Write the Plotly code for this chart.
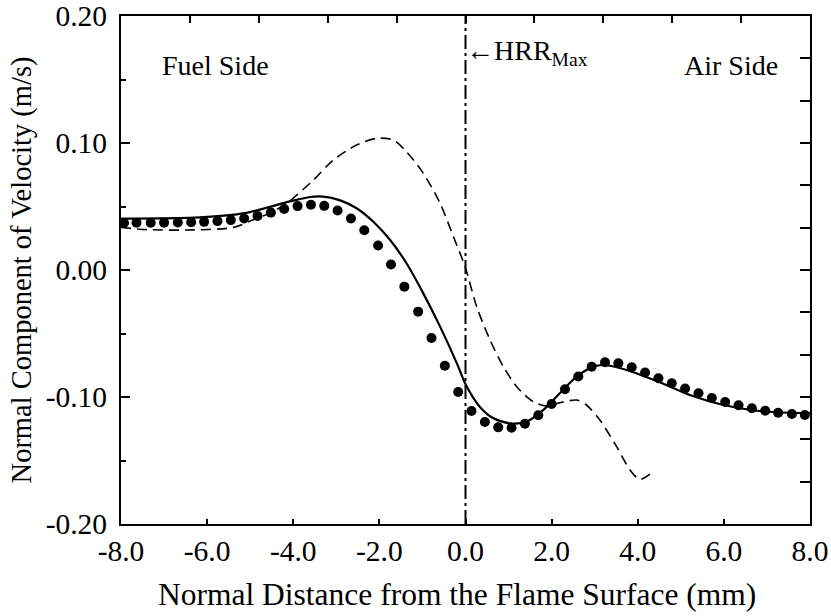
import plotly.graph_objects as go

# Measured normal velocity (symbols)
meas_x = [-7.93, -7.64, -7.31, -7.00, -6.68, -6.37, -6.07, -5.76, -5.45, -5.14,
          -4.83, -4.52, -4.21, -3.90, -3.59, -3.28, -2.97, -2.66, -2.35, -2.03,
          -1.73, -1.42, -1.10, -0.79, -0.48, -0.17,
          0.14, 0.45, 0.76, 1.07, 1.38, 1.69, 2.00, 2.31, 2.62, 2.93,
          3.24, 3.55, 3.86, 4.17, 4.48, 4.79, 5.10, 5.41, 5.72, 6.03,
          6.34, 6.65, 6.96, 7.26, 7.58, 7.88]
meas_v = [0.0370, 0.0372, 0.0372, 0.0373, 0.0374, 0.0376, 0.0379, 0.0385, 0.0393, 0.0406,
          0.0426, 0.0452, 0.0480, 0.0503, 0.0514, 0.0505, 0.0469, 0.0405, 0.0313, 0.0193,
          0.0043, -0.0131, -0.0328, -0.0535, -0.0754, -0.0961,
          -0.1110, -0.1197, -0.1239, -0.1242, -0.1210, -0.1144, -0.1055, -0.0939, -0.0839, -0.0761,
          -0.0727, -0.0735, -0.0766, -0.0807, -0.0853, -0.0892, -0.0933, -0.0971, -0.1008, -0.1039,
          -0.1065, -0.1088, -0.1108, -0.1124, -0.1134, -0.1142]

# Computed profile (solid)
calc_x = [-8.0, -6.17, -5.12, -4.08, -3.61, -3.30, -2.91, -2.53, -2.14, -1.75,
          -1.37, -0.98, -0.59, -0.20, 0.01, 0.34, 0.65, 1.03, 1.42, 1.81,
          2.19, 2.58, 2.97, 3.20, 3.74, 4.52, 5.21, 5.99, 6.76, 7.54, 8.0]
calc_v = [0.0405, 0.0415, 0.0448, 0.0540, 0.0575, 0.0578, 0.0548, 0.0486, 0.0380, 0.0236,
          0.0053, -0.0184, -0.0446, -0.0735, -0.0905, -0.1080, -0.1168, -0.1207, -0.1194, -0.1102,
          -0.0971, -0.0840, -0.0761, -0.0748, -0.0787, -0.0885, -0.0984, -0.1063, -0.1108, -0.1124, -0.1126]

# Alternative computed profile (dashed)
alt_x = [-8.0, -7.40, -6.47, -5.40, -4.93, -4.50, -4.15, -3.92, -3.53, -3.07,
         -2.53, -2.06, -1.68, -1.37, -0.98, -0.59, -0.28, -0.01, 0.26, 0.57,
         0.88, 1.19, 1.57, 1.89, 2.19, 2.58, 2.81, 3.12, 3.51, 3.82, 4.05, 4.36]
alt_v = [0.0335, 0.0318, 0.0315, 0.0335, 0.0395, 0.0455, 0.0525, 0.0590, 0.0709, 0.0866,
         0.0984, 0.1037, 0.1024, 0.0931, 0.0761, 0.0525, 0.0262, 0.0026, -0.0289, -0.0551,
         -0.0761, -0.0919, -0.1037, -0.1071, -0.1045, -0.1024, -0.1063, -0.1181, -0.1391, -0.1575, -0.1648, -0.1588]

hrr_max_x = 0.0
x_range = [-8.0, 8.0]
y_range = [-0.20, 0.20]
x_tick_vals = [-8, -6, -4, -2, 0, 2, 4, 6, 8]
x_tick_text = ["-8.0", "-6.0", "-4.0", "-2.0", "0.0", "2.0", "4.0", "6.0", "8.0"]
y_tick_vals = [-0.2, -0.1, 0.0, 0.1, 0.2]
y_tick_text = ["-0.20", "-0.10", "0.00", "0.10", "0.20"]

FONT = "Liberation Serif"

fig = go.Figure()

fig.add_trace(go.Scatter(x=alt_x, y=alt_v, mode="lines",
                         line=dict(color="black", width=1.6, dash="10px,6px", shape="spline", smoothing=0.8),
                         showlegend=False, hoverinfo="skip"))
fig.add_trace(go.Scatter(x=calc_x, y=calc_v, mode="lines",
                         line=dict(color="black", width=2.2, shape="spline", smoothing=0.8),
                         showlegend=False, hoverinfo="skip"))
fig.add_trace(go.Scatter(x=meas_x, y=meas_v, mode="markers",
                         marker=dict(color="black", size=10, symbol="circle"),
                         showlegend=False, hoverinfo="skip"))
# Location of peak heat release rate (on the overlay axes, which also carry the top/right ticks)
fig.add_trace(go.Scatter(x=[hrr_max_x, hrr_max_x], y=y_range, mode="lines",
                         xaxis="x2", yaxis="y2",
                         line=dict(color="black", width=2, dash="14px,4px,3px,4px"),
                         showlegend=False, hoverinfo="skip"))

axis_font = dict(family=FONT, size=29.5, color="black")

fig.update_layout(
    width=831, height=616,
    margin=dict(l=121, r=21, t=16, b=92),
    paper_bgcolor="white", plot_bgcolor="white",
    font=dict(family=FONT, color="black"),
    xaxis=dict(range=x_range, tickvals=x_tick_vals, ticktext=x_tick_text, automargin=False,
               ticks="inside", ticklen=5, tickwidth=2, tickcolor="black",
               showline=True, linewidth=2, linecolor="black", mirror=True,
               showgrid=False, zeroline=False, tickfont=axis_font),
    yaxis=dict(range=y_range, tickvals=y_tick_vals, ticktext=y_tick_text, automargin=False,
               ticks="inside", ticklen=9, tickwidth=2, tickcolor="black",
               minor=dict(dtick=0.05, tick0=0, ticks="inside", ticklen=5, tickwidth=2, tickcolor="black"),
               showline=True, linewidth=2, linecolor="black", mirror=True,
               showgrid=False, zeroline=False, tickfont=axis_font, ticklabelstandoff=6,
               title=dict(text="Normal Component of Velocity (m/s)",
                          font=dict(family=FONT, size=28.5, color="black"), standoff=6)),
    xaxis2=dict(range=x_range, overlaying="x", side="top", anchor="y", automargin=False,
                tickmode="linear", tick0=-8, dtick=1.6,
                ticks="inside", ticklen=7, tickwidth=2, tickcolor="black",
                showticklabels=False, showgrid=False, zeroline=False, showline=False),
    yaxis2=dict(range=y_range, overlaying="y", side="right", anchor="x", automargin=False,
                tickmode="linear", tick0=-0.2, dtick=0.4 / 12,
                ticks="inside", ticklen=10, tickwidth=2, tickcolor="black",
                showticklabels=False, showgrid=False, zeroline=False, showline=False),
    annotations=[
        dict(x=0.488, y=-0.138, xref="paper", yref="paper",
             text="Normal Distance from the Flame Surface (mm)", showarrow=False,
             xanchor="center", yanchor="middle", font=dict(family=FONT, size=31.5, color="black")),
        dict(x=-7.09, y=0.161, xref="x", yref="y", text="Fuel Side", showarrow=False,
             xanchor="left", yanchor="middle", font=dict(family=FONT, size=28, color="black")),
        dict(x=7.30, y=0.161, xref="x", yref="y", text="Air Side", showarrow=False,
             xanchor="right", yanchor="middle", font=dict(family=FONT, size=28, color="black")),
        dict(x=hrr_max_x, y=0.171, xref="x", yref="y", text="\u2190HRR<sub>Max</sub>", showarrow=False,
             xanchor="left", yanchor="middle", xshift=-2, font=dict(family=FONT, size=28, color="black")),
    ],
)

fig.write_html("out.html")
